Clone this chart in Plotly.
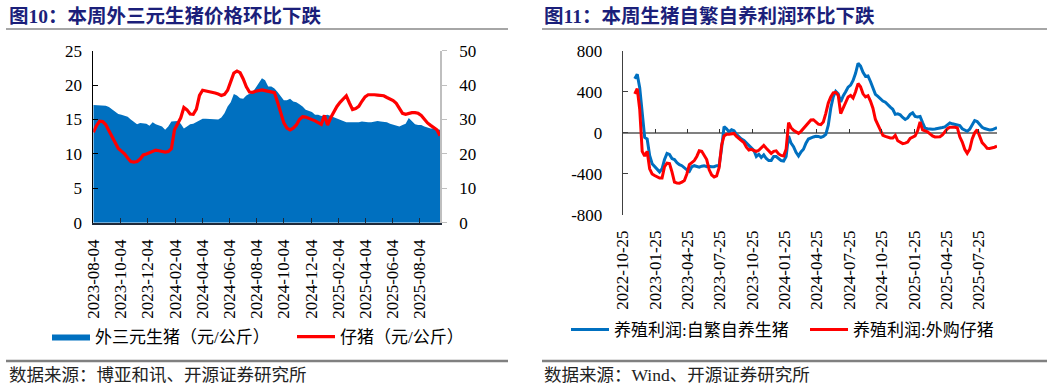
import plotly.graph_objects as go
import pandas as pd

W, H = 1057, 387

# ---------------- Left chart data (weekly, from 2023-08-04) ----------------
left_start = "2023-08-04"
hog_price = [
    17.1, 17.1, 17.0, 17.1, 17.0, 16.8, 16.5, 16.1, 15.8, 15.7,
    15.5, 15.4, 15.0, 14.6, 14.3, 14.5, 14.5, 14.4, 14.1, 14.6,
    14.3, 14.2, 14.0, 13.5, 14.0, 14.7, 14.8, 14.8, 14.4, 13.7,
    14.0, 14.3, 14.4, 14.6, 14.9, 15.1, 15.1, 15.1, 15.0, 15.0,
    15.0, 15.3, 15.9, 16.9, 17.5, 18.7, 18.5, 18.1, 18.0, 18.5,
    18.8, 19.0, 19.6, 20.4, 21.0, 20.7, 19.8, 19.8, 19.5, 19.0,
    18.3, 17.8, 17.8, 18.0, 17.6, 17.5, 17.2, 16.9, 16.4, 16.3,
    16.1, 15.7, 15.7, 15.5, 15.6, 15.7, 15.5, 15.3, 15.1, 15.0,
    14.8, 14.6, 14.6, 14.6, 14.5, 14.6, 14.7, 14.6, 14.6, 14.6,
    14.7, 14.8, 14.7, 14.7, 14.6, 14.4, 14.3, 14.1, 14.0, 14.2,
    14.4, 15.2, 14.7, 14.3, 14.2, 14.2, 14.0, 13.8, 13.7, 13.7, 13.6, 13.5,
]
piglet_price = [
    26.3, 28.2, 29.5, 29.4, 28.5, 26.8, 25.0, 23.0, 21.6, 20.8,
    20.0, 18.8, 17.8, 17.6, 17.8, 18.5, 19.7, 20.0, 20.4, 20.9,
    21.1, 20.9, 20.6, 20.5, 20.7, 21.5, 27.0, 28.8, 30.5, 33.5,
    32.8, 31.6, 31.5, 33.0, 37.0, 38.5, 38.3, 38.3, 38.0, 37.7,
    37.4, 37.0, 37.3, 38.5, 41.0, 43.5, 44.1, 43.6, 41.8, 39.5,
    38.0, 37.9, 38.2, 38.4, 38.6, 38.4, 38.2, 38.0, 37.8, 35.0,
    32.0, 29.0, 27.5, 27.0, 27.5, 28.4, 30.0, 30.8, 30.7, 30.4,
    30.0, 29.6, 29.1, 28.6, 31.2, 28.4, 30.5, 32.3, 33.8, 35.0,
    36.0, 36.9, 34.8, 32.9, 33.2, 33.8, 35.3, 36.6, 37.2, 37.3,
    37.2, 37.1, 37.0, 36.9, 36.4, 35.9, 35.5, 34.7, 33.2, 31.8,
    31.5, 31.8, 32.0, 32.0, 31.8, 31.2, 30.1, 29.0, 28.3, 27.5, 27.0, 25.3,
]
left_ticks = ["2023-08-04", "2023-10-04", "2023-12-04", "2024-02-04", "2024-04-04",
              "2024-06-04", "2024-08-04", "2024-10-04", "2024-12-04", "2025-02-04",
              "2025-04-04", "2025-06-04", "2025-08-04"]

# ---------------- Right chart data (weekly, from 2022-11-28) ----------------
right_start = "2022-11-28"
right_axis_start = "2022-10-25"
profit_self = [
    526, 570, 440, 200, -45, -60, -220, -300, -330, -360,
    -380, -350, -260, -200, -210, -250, -260, -290, -310, -320,
    -345, -360, -375, -330, -320, -330, -335, -325, -320, -330,
    -325, -330, -330, -320, -320, -150, 60, 40, 10, 30,
    20, -15, -40, -60, -75, -100, -130, -150, -170, -230,
    -210, -240, -215, -250, -270, -270, -230, -230, -250, -270,
    -275, -230, -30, -100, -135, -190, -225, -185, -160, -100,
    -60, -48, -40, -33, -35, -45, -35, -15, 74, 240,
    350, 405, 381, 300, 360, 400, 445, 465, 510, 580,
    677, 650, 590, 550, 555, 500, 440, 375, 355, 330,
    310, 298, 270, 250, 230, 180, 185, 175, 150, 130,
    145, 180, 195, 160, 155, 160, 100, 45, 40, 35,
    35, 38, 45, 48, 52, 58, 80, 97, 88, 82,
    78, 70, 40, 25, 15, 35, 80, 120, 110, 78,
    55, 42, 32, 28, 30, 40, 52,
]
profit_buy = [
    380, 430, 230, -180, -226, -180, -350, -400, -415, -425,
    -440, -440, -330, -295, -300, -380, -480, -488, -490, -480,
    -465, -400, -310, -290, -270, -230, -175, -180, -215, -260,
    -360, -410, -430, -420, -340, -120, -30, -13, -13, -10,
    -6, -35, -60, -75, -95, -140, -168, -161, -172, -180,
    -170, -150, -122, -150, -172, -200, -180, -175, -205, -220,
    -225, -160, 100, 50, 25, 12, -5, 15, 42, 65,
    100, 125, 128, 110, 85, 80, 106, 190, 290, 350,
    390, 395, 365, 187, 240, 300, 350, 365, 340, 400,
    480, 450, 380, 350, 362, 310, 240, 130, 80, 20,
    -25, -35, -45, -50, -50, -25, -77, -95, -105, -100,
    -90, -55, -42, -30, 20, 106, 30, 20, 10, -10,
    -30, -40, -42, -38, -20, 10, 40, 55, 58, 55,
    50, -39, -90, -160, -200, -160, -60, 0, 30, -40,
    -95, -120, -150, -152, -148, -140, -129,
]
right_ticks = ["2022-10-25", "2023-01-25", "2023-04-25", "2023-07-25", "2023-10-25",
               "2024-01-25", "2024-04-25", "2024-07-25", "2024-10-25", "2025-01-25",
               "2025-04-25", "2025-07-25"]
right_yticks = [-800, -400, 0, 400, 800]

left_dates = pd.date_range(left_start, periods=len(hog_price), freq="7D")
right_dates = pd.date_range(right_start, periods=len(profit_self), freq="7D")

BLUE = "#0070C0"
RED = "#FF0000"
SERIF = "Liberation Serif, Noto Sans CJK SC"
TICKFONT = dict(family="Liberation Serif", size=17, color="#000000")


def px_x(p):
    return p / W


def px_y(p):
    return 1 - p / H


fig = go.Figure()

fig.add_trace(go.Scatter(
    x=left_dates, y=hog_price, mode="lines", fill="tozeroy",
    fillcolor=BLUE, line=dict(color=BLUE, width=0),
    name="外三元生猪（元/公斤）", xaxis="x", yaxis="y", legend="legend"))
fig.add_trace(go.Scatter(
    x=left_dates, y=piglet_price, mode="lines",
    line=dict(color=RED, width=3.2),
    name="仔猪（元/公斤）", xaxis="x", yaxis="y2", legend="legend"))

fig.add_trace(go.Scatter(
    x=right_dates, y=profit_self, mode="lines",
    line=dict(color=BLUE, width=3),
    name="养殖利润:自繁自养生猪", xaxis="x2", yaxis="y3", legend="legend2"))
fig.add_trace(go.Scatter(
    x=right_dates, y=profit_buy, mode="lines",
    line=dict(color=RED, width=3),
    name="养殖利润:外购仔猪", xaxis="x3", yaxis="y3", legend="legend2"))

left_dom_x = [px_x(93.3), px_x(440)]
left_dom_y = [px_y(222.7), px_y(50.7)]
right_dom_x = [px_x(622.7), px_x(997)]
right_dom_y = [px_y(215), px_y(50.7)]
zero_pos = right_dom_y[0] + (right_dom_y[1] - right_dom_y[0]) / 2

fig.update_layout(
    width=W, height=H,
    margin=dict(l=0, r=0, t=0, b=0, autoexpand=False),
    paper_bgcolor="white", plot_bgcolor="white",
    showlegend=True,
    xaxis=dict(
        domain=left_dom_x, anchor="y", type="date", automargin=False,
        range=[left_dates[0], left_dates[-1]],
        tickvals=left_ticks, ticktext=left_ticks, tickangle=-90,
        ticks="inside", ticklen=5, tickcolor="#1F2A3A",
        showline=True, linecolor="#1F2A3A", linewidth=2,
        showgrid=False, zeroline=False, tickfont=TICKFONT,
        ticklabelstandoff=8),
    yaxis=dict(
        domain=left_dom_y, anchor="x", range=[0, 25], dtick=5, automargin=False,
        ticks="inside", ticklen=5, tickcolor="#000000",
        showline=True, linecolor="#000000", linewidth=1,
        showgrid=False, zeroline=False, tickfont=TICKFONT,
        ticklabelstandoff=7),
    yaxis2=dict(
        overlaying="y", side="right", anchor="x", range=[0, 50], dtick=10,
        automargin=False,
        ticks="outside", ticklen=5, tickcolor="#BFBFBF",
        showline=True, linecolor="#BFBFBF", linewidth=1.5,
        showgrid=False, zeroline=False, tickfont=TICKFONT,
        ticklabelstandoff=9),
    xaxis2=dict(
        domain=right_dom_x, anchor="y3", type="date", automargin=False,
        range=[right_axis_start, right_dates[-1]],
        tickvals=right_ticks, ticktext=right_ticks, tickangle=-90,
        ticks="", showline=False, showgrid=False, zeroline=False,
        tickfont=TICKFONT, ticklabelstandoff=11),
    xaxis3=dict(
        overlaying="x2", anchor="free", position=zero_pos, type="date",
        automargin=False,
        range=[right_axis_start, right_dates[-1]],
        tickvals=right_ticks, ticks="inside", ticklen=4, tickcolor="#333333",
        showticklabels=False, showline=False, showgrid=False, zeroline=False),
    yaxis3=dict(
        domain=right_dom_y, anchor="x2", range=[-800, 800], automargin=False,
        tickvals=right_yticks, ticktext=[str(v) for v in right_yticks],
        ticks="inside", ticklen=5, tickcolor="#404040",
        showline=True, linecolor="#404040", linewidth=1,
        showgrid=False, zeroline=True, zerolinecolor="#808080", zerolinewidth=2,
        tickfont=TICKFONT, ticklabelstandoff=16),
    legend=dict(
        orientation="h", x=px_x(47), y=px_y(337), xanchor="left", yanchor="middle",
        font=dict(family=SERIF, size=17, color="#000000"),
        bgcolor="rgba(0,0,0,0)", itemwidth=38, tracegroupgap=0,
        entrywidth=192, entrywidthmode="pixels"),
    legend2=dict(
        orientation="h", x=px_x(566), y=px_y(330), xanchor="left", yanchor="middle",
        font=dict(family=SERIF, size=17, color="#000000"),
        bgcolor="rgba(0,0,0,0)", itemwidth=38, tracegroupgap=0,
        entrywidth=186, entrywidthmode="pixels"),
)

TITLE_COLOR = "#1B1F7A"
annos = [
    dict(text="<b>图10：本周外三元生猪价格环比下跌</b>", x=px_x(7), y=px_y(16),
         font=dict(family=SERIF, size=19.5, color=TITLE_COLOR)),
    dict(text="<b>图11：本周生猪自繁自养利润环比下跌</b>", x=px_x(542), y=px_y(16),
         font=dict(family=SERIF, size=19.5, color=TITLE_COLOR)),
    dict(text="数据来源：博亚和讯、开源证券研究所", x=px_x(7), y=px_y(375),
         font=dict(family=SERIF, size=17.5, color="#222222")),
    dict(text="数据来源：Wind、开源证券研究所", x=px_x(542), y=px_y(375),
         font=dict(family=SERIF, size=17.5, color="#222222")),
]
for a in annos:
    fig.add_annotation(xref="paper", yref="paper", xanchor="left", yanchor="middle",
                       showarrow=False, **a)

line_specs = [
    (6, 508, 29, "#A6A6A6", 2),
    (542, 1047, 29, "#A6A6A6", 2),
    (6, 508, 361, "#808080", 2.5),
    (542, 1047, 361, "#808080", 2.5),
]
for x0, x1, yy, col, wd in line_specs:
    fig.add_shape(type="line", xref="paper", yref="paper",
                  x0=px_x(x0), x1=px_x(x1), y0=px_y(yy), y1=px_y(yy),
                  line=dict(color=col, width=wd))

fig.write_html(
    "out.html",
    config={"displayModeBar": False},
    post_script="document.body.style.margin='0';"
                "document.documentElement.style.overflow='hidden';",
)
